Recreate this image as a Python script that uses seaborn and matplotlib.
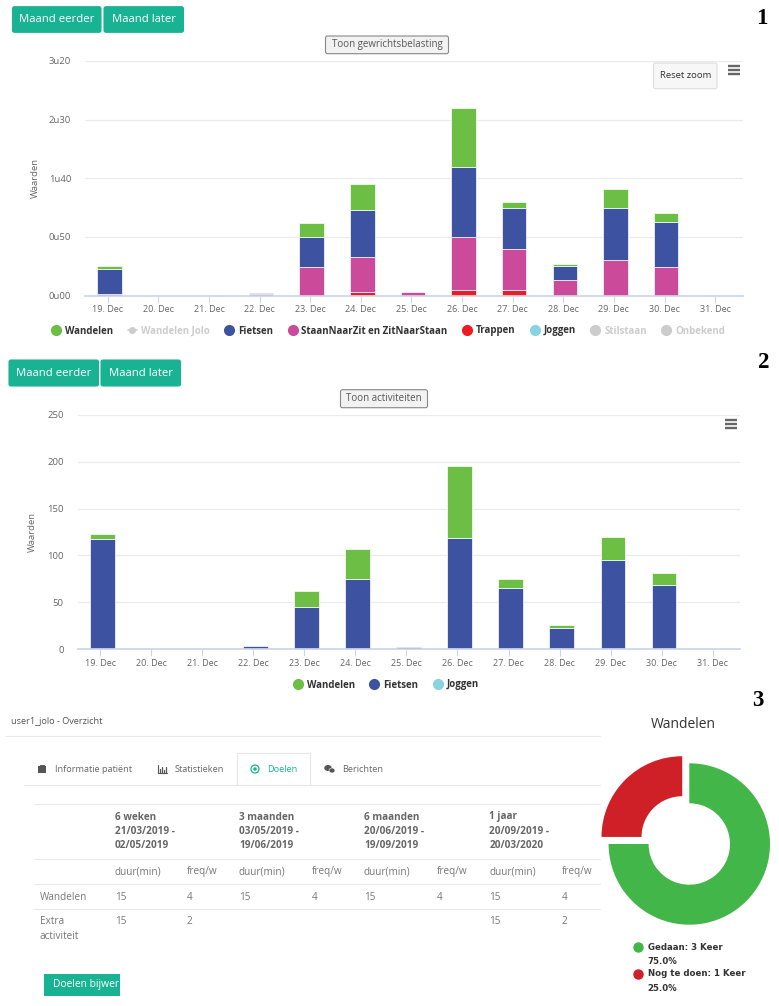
import numpy as np
import pandas as pd
import matplotlib
matplotlib.use('Agg')
import matplotlib.pyplot as plt
from matplotlib.lines import Line2D
from matplotlib.patches import Rectangle, FancyBboxPatch, Ellipse
import seaborn as sns

days = ['19. Dec', '20. Dec', '21. Dec', '22. Dec', '23. Dec', '24. Dec', '25. Dec',
        '26. Dec', '27. Dec', '28. Dec', '29. Dec', '30. Dec', '31. Dec']

# chart 1, minutes per day
trappen_1 = [0, 0, 0, 0, 0, 3, 0, 5, 5, 0, 0, 0, 0]
staan_1 = [1.5, 0, 0, 1, 24.5, 30, 3, 45, 35, 13.5, 30.5, 24.5, 0]
fietsen_1 = [21, 0, 0, 1, 25, 40, 0, 60, 34.5, 12, 44.5, 38, 0]
wandelen_1 = [3, 0, 0, 0, 12, 22, 0, 49.5, 5.5, 1.5, 16, 7.5, 0]
ticks_1 = [0, 50, 100, 150, 200]
ticklabels_1 = ['0u00', '0u50', '1u40', '2u30', '3u20']

# chart 2
fietsen_2 = [118, 0, 0, 3, 45.5, 75, 2, 119, 65, 23, 95.5, 69, 0]
wandelen_2 = [5, 0, 0, 0, 17, 32, 0, 76.5, 9.5, 2.5, 24, 12, 0]
ticks_2 = [0, 50, 100, 150, 200, 250]

# chart 3
donut_values = [3, 1]
donut_labels = ['Gedaan: 3 Keer', 'Nog te doen: 1 Keer']
donut_pct = ['75.0%', '25.0%']

table_head = [['6 weken', '21/03/2019 -', '02/05/2019'],
              ['3 maanden', '03/05/2019 -', '19/06/2019'],
              ['6 maanden', '20/06/2019 -', '19/09/2019'],
              ['1 jaar', '20/09/2019 -', '20/03/2020']]
wandelen_row = ['15', '4', '15', '4', '15', '4', '15', '4']
extra_row = ['15', '2', '', '', '', '', '15', '2']

GREEN = '#6CBE45'
BLUE = '#3D52A1'
PINK = '#CB4A9A'
RED = '#ED1C24'
CYAN = '#87D3E0'
GREY = '#CCCCCC'
TEAL = '#19B394'

sns.set_theme(style='white')
plt.rcParams['font.family'] = ['Open Sans', 'DejaVu Sans']

W, H = 779, 1006
fig = plt.figure(figsize=(W / 100, H / 100), dpi=100)

# overlay in pixel coordinates for the page furniture
page = fig.add_axes([0, 0, 1, 1], zorder=5)
page.set_xlim(0, W)
page.set_ylim(H, 0)
page.axis('off')
page.patch.set_alpha(0)


def px_axes(x0, y0, x1, y1):
    return fig.add_axes([x0 / W, 1 - y1 / H, (x1 - x0) / W, (y1 - y0) / H])


def button(x0, y0, x1, y1, txt, fill=TEAL, edge=TEAL, color='white', size=8.2):
    page.add_patch(FancyBboxPatch((x0 + 1, y0 + 1), x1 - x0 - 2, y1 - y0 - 2,
                                  boxstyle='round,pad=1,rounding_size=2', fc=fill, ec=edge, lw=0.8))
    page.text((x0 + x1) / 2, (y0 + y1) / 2, txt, color=color, size=size, ha='center', va='center')


def menu(x, y):
    for dy in (-4, 0, 4):
        page.plot([x - 6, x + 6], [y + dy, y + dy], color='#666666', lw=1.7, solid_capstyle='butt')


def hline(y, x0=5, x1=600, color='#E9E9E9'):
    page.plot([x0, x1], [y, y], color=color, lw=0.8)


def stacked(ax, series, ticks, labels, shift):
    bottom = np.zeros(len(days))
    for vals, col in series:
        vals = np.array(vals, dtype=float)
        df = pd.DataFrame({'dag': days, 'waarde': vals, 'bottom': bottom})
        df = df[df['waarde'] > 0]
        sns.barplot(data=df, x='dag', y='waarde', order=days, color=col, saturation=1,
                    width=0.485, bottom=df['bottom'].values, ax=ax, edgecolor='white', linewidth=0.5)
        bottom = bottom + vals
    ax.set_yticks(ticks)
    ax.set_yticklabels(labels, color='#666666', fontsize=6.8)
    ax.set_xticks(np.arange(len(days)) - shift)
    ax.set_xticklabels(days, color='#666666', fontsize=6.5)
    ax.set_xlabel('')
    ax.set_ylabel('Waarden', color='#666666', fontsize=6.8)
    ax.grid(axis='y', color='#EBEBEB', lw=0.9)
    ax.set_axisbelow(True)
    for s in ('top', 'left', 'right'):
        ax.spines[s].set_visible(False)
    ax.spines['bottom'].set_color('#CCD6EB')
    ax.tick_params(axis='x', length=5, width=0.8, color='#CCD6EB', pad=2, bottom=True)
    ax.tick_params(axis='y', length=0, pad=10)


def legend_items(ax, items, anchor, spacing):
    handles = []
    labels = []
    for name, col, line, active in items:
        handles.append(Line2D([], [], color=col, marker='o', ls='-' if line else '',
                              markersize=4 if line else 7, lw=1.2))
        labels.append(name)
    leg = fig.legend(handles, labels, loc='center', bbox_to_anchor=(anchor[0] / W, 1 - anchor[1] / H),
                     ncol=len(items), frameon=False, fontsize=7, handlelength=1.0, handletextpad=0.4,
                     columnspacing=spacing, borderpad=0, borderaxespad=0)
    for t, it in zip(leg.get_texts(), items):
        t.set_fontweight('bold')
        t.set_color('#333333' if it[3] else GREY)


# chart 1
ax1 = px_axes(85, 61, 743, 295.5)
stacked(ax1, [(trappen_1, RED), (staan_1, PINK), (fietsen_1, BLUE), (wandelen_1, GREEN)],
        ticks_1, ticklabels_1, 0.03)
ax1.set_xlim(-0.48, 12.52)
ax1.set_ylim(0, 200)
ax1.yaxis.set_label_coords(-0.068, 0.5)
legend_items(ax1, [('Wandelen', GREEN, False, True), ('Wandelen Jolo', GREY, True, False),
                   ('Fietsen', BLUE, False, True), ('StaanNaarZit en ZitNaarStaan', PINK, False, True),
                   ('Trappen', RED, False, True), ('Joggen', CYAN, False, True),
                   ('Stilstaan', GREY, False, False), ('Onbekend', GREY, False, False)], (388, 331), 1.5)

button(12.5, 6.7, 101, 32.3, 'Maand eerder')
button(104, 6.7, 183.5, 32.3, 'Maand later')
button(325.5, 36, 448.5, 53.7, 'Toon gewrichtsbelasting', fill='#F2F2F2', edge='#888888', color='#555555', size=7)
button(653.5, 63, 717, 88.7, 'Reset zoom', fill='#F7F7F7', edge='#DDDDDD', color='#333333', size=6.8)
menu(734, 70)

# chart 2
ax2 = px_axes(77.5, 414.7, 740, 649.3)
stacked(ax2, [(fietsen_2, BLUE), (wandelen_2, GREEN)], ticks_2, [str(t) for t in ticks_2], 0.045)
ax2.set_xlim(-0.49, 12.49)
ax2.set_ylim(0, 250)
ax2.yaxis.set_label_coords(-0.061, 0.5)
legend_items(ax2, [('Wandelen', GREEN, False, True), ('Fietsen', BLUE, False, True),
                   ('Joggen', CYAN, False, True)], (386, 685), 1.5)

button(9, 360, 98.5, 386, 'Maand eerder')
button(101, 360, 180.5, 386, 'Maand later')
button(340.5, 389.7, 427.5, 407.7, 'Toon activiteiten', fill='#F2F2F2', edge='#888888', color='#555555', size=7)
menu(731.5, 424)

# section numbers
for x, y, t in [(762, 18, '1'), (763.5, 363, '2'), (758, 701, '3')]:
    page.text(x, y, t, family='Liberation Serif', weight='bold', size=16.5, color='black', ha='center', va='center')

# table panel
grey_txt = '#777777'
page.text(11.5, 721.7, 'user1_jolo - Overzicht', color='#555555', size=6.6, va='center')
hline(736)
page.add_patch(Rectangle((237, 753), 73, 32, fc='white', ec='#E6E6E6', lw=0.8, zorder=3))
hline(785, 24.5, 237)
hline(785, 310, 600)
for x, t, c in [(55, 'Informatie patiënt', '#666666'), (174.5, 'Statistieken', '#666666'),
                (267, 'Doelen', TEAL), (342, 'Berichten', '#666666')]:
    page.text(x, 769, t, color=c, size=6.6, va='center', zorder=4)
# tab icons
page.add_patch(Rectangle((38.5, 766), 7.5, 6.5, fc='#555555', ec='none', zorder=4))
page.add_patch(Rectangle((40.5, 764.5), 3.5, 2, fc='none', ec='#555555', lw=0.7, zorder=4))
page.plot([158, 158, 167], [765, 773, 773], color='#555555', lw=0.8)
for bx, bh in [(160, 4), (162, 6), (164, 3), (166, 6)]:
    page.plot([bx, bx], [772.5, 772.5 - bh], color='#555555', lw=0.9)
page.add_patch(Ellipse((255, 769), 8, 8, fc='none', ec=TEAL, lw=0.9, zorder=4))
page.add_patch(Ellipse((255, 769), 3.5, 3.5, fc=TEAL, ec='none', zorder=4))
page.add_patch(Ellipse((328, 768), 7.5, 6, fc='#555555', ec='none', zorder=4))
page.add_patch(Ellipse((332, 770.5), 6, 5, fc='#555555', ec='white', lw=0.4, zorder=4))

col_x = [115, 186.4, 239, 311.5, 364, 436.7, 489.5, 562]
for y in (804, 858.5, 884, 909):
    hline(y, 34, 600)
for i, head in enumerate(table_head):
    for y, t in zip((817, 831.7, 846), head):
        page.text(col_x[i * 2], y, t, color='#666666', size=7.2, weight='bold', va='center')
    page.text(col_x[i * 2], 871.7, 'duur(min)', color=grey_txt, size=7.2, va='center')
    page.text(col_x[i * 2 + 1], 871.7, 'freq/w', color=grey_txt, size=7.2, va='center')
page.text(40, 897, 'Wandelen', color=grey_txt, size=7.2, va='center')
page.text(40, 922, 'Extra', color=grey_txt, size=7.2, va='center')
page.text(40, 936.7, 'activiteit', color=grey_txt, size=7.2, va='center')
for x, a, b in zip(col_x, wandelen_row, extra_row):
    page.text(x, 897, a, color=grey_txt, size=7.2, va='center')
    page.text(x, 922, b, color=grey_txt, size=7.2, va='center')

box = Rectangle((44, 974), 76.5, 22, fc=TEAL, ec='none')
page.add_patch(box)
t = page.text(52.8, 985, 'Doelen bijwerken', color='white', size=7.4, va='center')
t.set_clip_path(box)

# donut
ax3 = px_axes(689.3 - 100, 844 - 100, 689.3 + 100, 844 + 100)
ax3.pie(donut_values, colors=['#43B649', '#CF1F27'], startangle=90, counterclock=False,
        explode=[0, 0.1], radius=0.807, wedgeprops={'width': 0.4, 'linewidth': 0})
ax3.set_xlim(-1, 1)
ax3.set_ylim(-1, 1)
page.text(683.7, 724, 'Wandelen', color='#333333', size=10, ha='center', va='center')
for (y0, y1), lab, pct, col in zip([(947, 961), (974, 988.7)], donut_labels, donut_pct, ['#43B649', '#CF1F27']):
    page.plot([637.7], [y0], 'o', color=col, ms=6.5)
    page.text(647.7, y0, lab, family='DejaVu Sans', weight='bold', size=6.2, color='#333333', va='center')
    page.text(647.7, y1, pct, family='DejaVu Sans', weight='bold', size=6.2, color='#333333', va='center')

page.set_xlim(0, W)
page.set_ylim(H, 0)
fig.savefig('out.png', dpi=100)
